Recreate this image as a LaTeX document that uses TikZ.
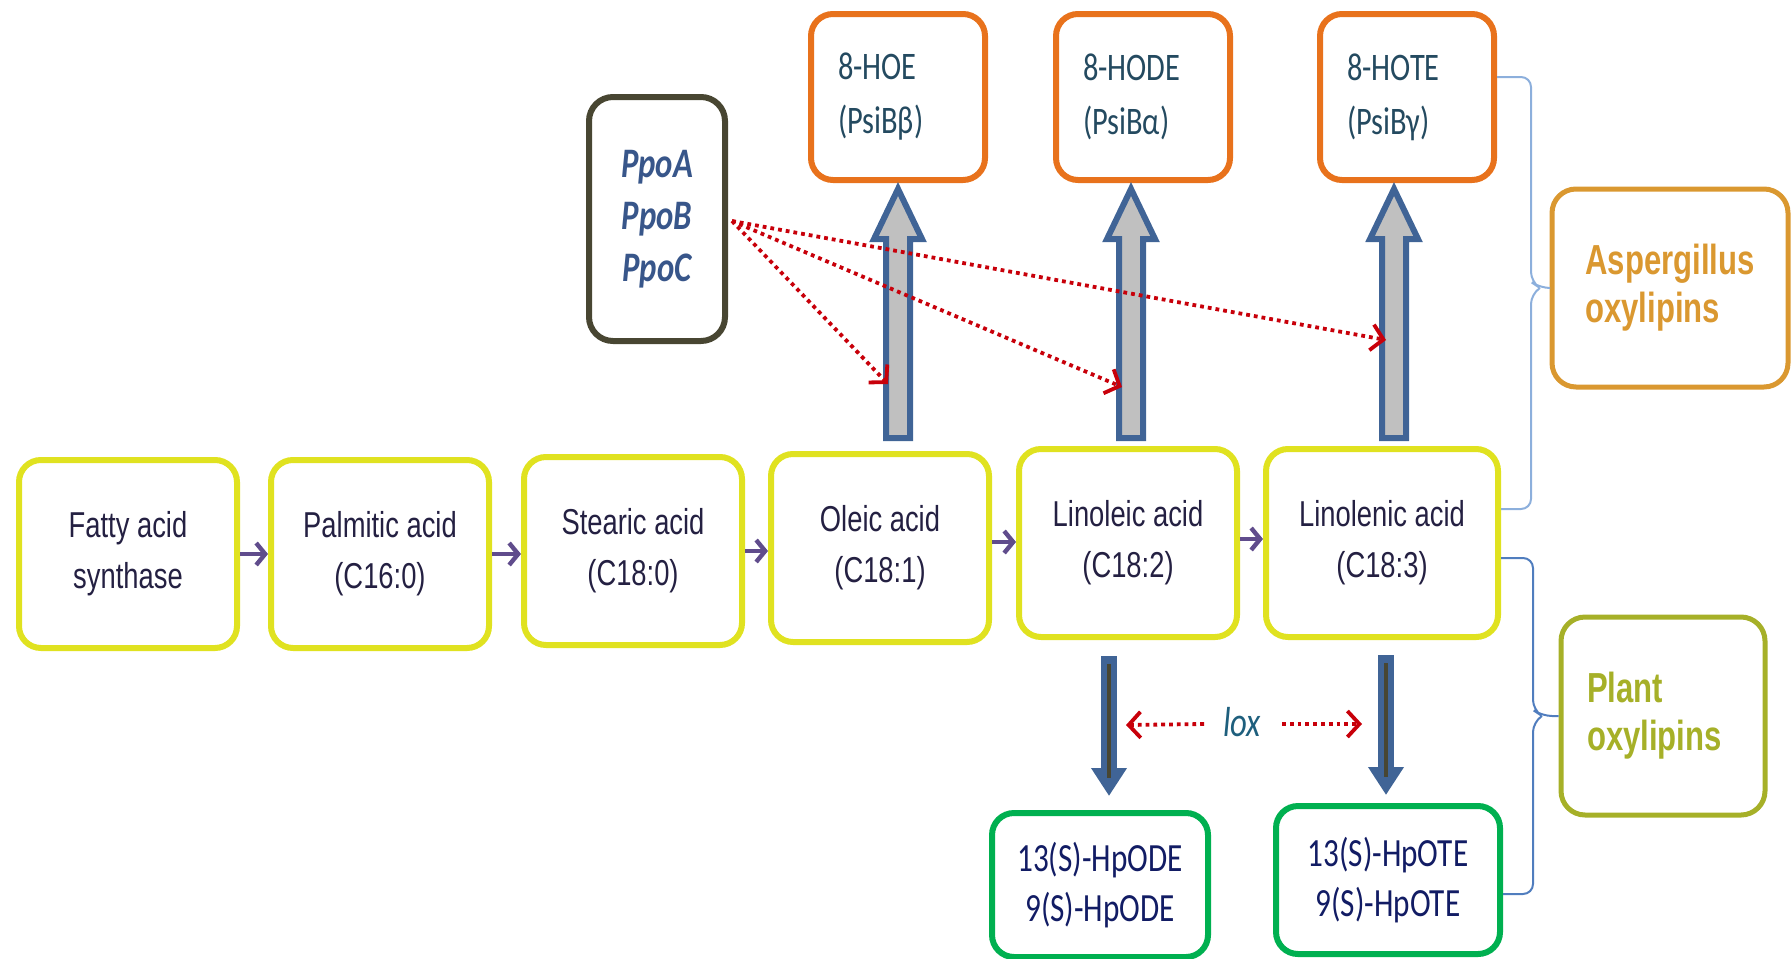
\documentclass[tikz,border=0pt]{standalone}
\usepackage{fontspec}
\usetikzlibrary{calc}
\usetikzlibrary{arrows.meta}
\newfontfamily\acidfont{Liberation Sans}[FakeStretch=0.76]
\newfontfamily\calfont{Carlito}[FakeStretch=0.78]
\newfontfamily\groupfont{Liberation Sans}[FakeStretch=0.74]
\definecolor{custom-yellow}{RGB}{224, 226, 32}
\definecolor{custom-orange}{RGB}{232, 114, 28}
\definecolor{custom-ppo}{RGB}{72, 70, 50}
\definecolor{custom-gold}{RGB}{218, 152, 48}
\definecolor{custom-olive}{RGB}{166, 176, 40}
\definecolor{custom-green}{RGB}{0, 176, 80}
\definecolor{custom-steel}{RGB}{64, 100, 150}
\definecolor{custom-grey}{RGB}{192, 192, 192}
\definecolor{custom-red}{RGB}{200, 0, 10}
\definecolor{custom-purple}{RGB}{96, 76, 140}
\definecolor{custom-navy}{RGB}{36, 32, 66}
\definecolor{custom-slate}{RGB}{36, 74, 96}
\definecolor{custom-blue}{RGB}{56, 86, 138}
\definecolor{custom-darkblue}{RGB}{18, 28, 100}
\definecolor{custom-teal}{RGB}{30, 95, 125}
\definecolor{custom-brace}{RGB}{140, 175, 220}
\definecolor{custom-brace2}{RGB}{80, 125, 190}

% fat grey arrow pointing up, from (#1) to (#2)
\newcommand{\fatup}[2]{%
\filldraw[fill=custom-grey, draw=custom-steel, line width=3pt, line join=miter]
  let \p1=(#1), \p2=(#2) in
  (\x1-6pt,\y1) -- (\x1-6pt,\y2-25pt) -- (\x1-12pt,\y2-25pt) -- (\x1,\y2)
  -- (\x1+12pt,\y2-25pt) -- (\x1+6pt,\y2-25pt) -- (\x1+6pt,\y1) -- cycle;}

\begin{document}
\begin{tikzpicture}[x=0.5pt, y=-0.5pt,
  acid/.style={draw=custom-yellow, line width=3pt, rounded corners=11pt, minimum width=109pt,
    minimum height=94pt, align=center, text=custom-navy, font=\acidfont\fontsize{18}{25.5}\selectfont},
  hoe/.style={draw=custom-orange, line width=3pt, rounded corners=11pt, minimum width=87pt,
    minimum height=83pt, text width=60pt, inner xsep=13pt, align=left,
    text=custom-slate, font=\calfont\fontsize{19.5}{27}\selectfont},
  hpo/.style={draw=custom-green, line width=3pt, rounded corners=11pt, minimum width=108pt,
    minimum height=72pt, align=center, text=custom-darkblue, font=\calfont\fontsize{20}{25}\selectfont},
  group/.style={line width=2.5pt, rounded corners=12pt, minimum height=99pt, align=left,
    inner xsep=13pt, font=\groupfont\bfseries\fontsize{21}{24}\selectfont},
  step-arrow/.style={draw=custom-purple, line width=2.2pt, -{Straight Barb[length=4.5pt, width=11pt]}},
  ppo-arrow/.style={draw=custom-red, line width=1.9pt, dash pattern=on 1.9pt off 2pt,
    -{Straight Barb[length=6pt, width=13pt]}},
  lox-arrow/.style={custom-steel, line width=8pt, -{Triangle[length=14pt, width=17pt]}},
  brace/.style={line width=1pt, rounded corners=5pt}]
\useasboundingbox (0,0) rectangle (1792,958);

% fatty acid row
\node[acid] (fas) at (128,554) {Fatty acid\\synthase};
\node[acid] (palm) at (380,554) {Palmitic acid\\(C16:0)};
\node[acid] (stea) at (633,551) {Stearic acid\\(C18:0)};
\node[acid] (olei) at (880,548) {Oleic acid\\(C18:1)};
\node[acid] (lino) at (1128,543) {Linoleic acid\\(C18:2)};
\node[acid, minimum width=116pt] (linl) at (1382,543) {Linolenic acid\\(C18:3)};

\draw[step-arrow] (fas.east) -- (fas.east -| palm.west);
\draw[step-arrow] (palm.east) -- (palm.east -| stea.west);
\draw[step-arrow] (stea.east) -- (stea.east -| olei.west);
\draw[step-arrow] ($(olei.east)+(0,-6)$) -- ($(olei.east -| lino.west)+(0,-6)$);
\draw[step-arrow] ($(lino.east)+(0,-4)$) -- ($(lino.east -| linl.west)+(0,-4)$);

% psi products
\node[hoe] (hoe) at (898,97) {8-HOE\\(PsiBβ)};
\node[hoe] (hode) at (1143,97) {8-HODE\\(PsiBα)};
\node[hoe] (hote) at (1407,97) {8-HOTE\\(PsiBγ)};

\node[draw=custom-ppo, line width=3pt, rounded corners=12pt, minimum width=68pt, minimum height=122pt,
  align=center, text=custom-blue, font=\calfont\bfseries\itshape\fontsize{21}{26}\selectfont]
  (ppo) at (657,219) {PpoA\\PpoB\\PpoC};

\coordinate (u1) at ($(hoe.south |- olei.north)+(0,-13)$);
\coordinate (u2) at ($(hode.south |- lino.north)+(-12,-8)$);
\coordinate (u3) at ($(hote.south |- linl.north)+(-13,-8)$);
\fatup{u1}{$(hoe.south)+(0,6)$}
\fatup{u2}{$(hode.south)+(-12,6)$}
\fatup{u3}{$(hote.south)+(-13,6)$}

\coordinate (t1) at (888,384);
\coordinate (t2) at (1122,387);
\coordinate (t3) at (1386,340);
\draw[ppo-arrow] ($(ppo.east)+(4,2)$) -- (t1);
\draw[ppo-arrow] ($(ppo.east)+(4,2)$) -- (t2);
\draw[ppo-arrow] ($(ppo.east)+(4,2)$) -- (t3);

% lipoxygenase
\node[hpo] (hpode) at (1100,885) {13(S)-HpODE\\9(S)-HpODE};
\node[hpo, minimum width=112pt, minimum height=74pt] (hpote) at (1388,880) {13(S)-HpOTE\\9(S)-HpOTE};

\coordinate (d1) at ($(hpode.north)+(9,-154)$);
\coordinate (d2) at ($(hpote.north)+(-2,-148)$);
\draw[lox-arrow] (d1) -- ($(hpode.north)+(9,-14)$);
\draw[custom-ppo, line width=2pt] ($(d1)+(0,8)$) -- ($(hpode.north)+(9,-32)$);
\draw[lox-arrow] (d2) -- ($(hpote.north)+(-2,-8)$);
\draw[custom-ppo, line width=2pt] ($(d2)+(0,8)$) -- ($(hpote.north)+(-2,-26)$);

\node[text=custom-teal, font=\calfont\itshape\fontsize{21}{24}\selectfont] (lox) at (1242,722) {lox};
\draw[ppo-arrow] ($(lox.west)+(-12,2)$) -- ($(d1)+(17,69)$);
\draw[ppo-arrow] ($(lox.east)+(14,2)$) -- ($(d2)+(-24,69)$);

% groups
\node[group, draw=custom-gold, text=custom-gold, minimum width=118pt] (asp) at (1670,288)
  {Aspergillus\\oxylipins};
\node[group, draw=custom-olive, text=custom-olive, minimum width=102pt, text width=76pt] (plant) at (1663,716)
  {Plant\\oxylipins};

\draw[brace, custom-brace] (hote.east |- 0,77) -| (1531,282) -- (1540,288) -- (asp.west);
\draw[brace, custom-brace] (1540,288) -- (1531,294) |- (linl.east |- 0,509);
\draw[brace, custom-brace2] (linl.east |- 0,558) -| (1533,710) -- (1542,716) -- (plant.west);
\draw[brace, custom-brace2] (1542,716) -- (1533,722) |- (hpote.east |- 0,894);
\end{tikzpicture}
\end{document}
